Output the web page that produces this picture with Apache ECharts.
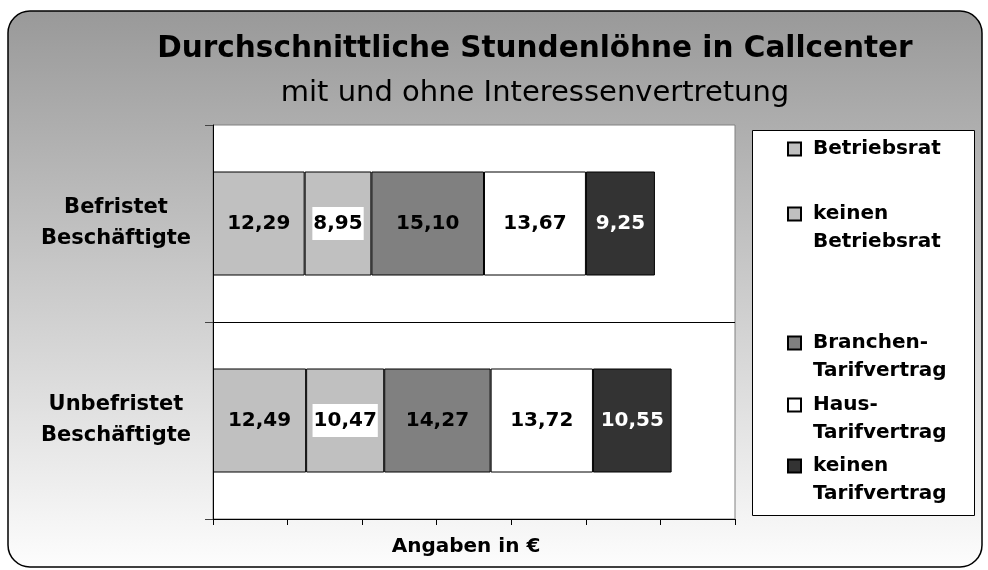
<!DOCTYPE html>
<html>
<head>
<meta charset="utf-8">
<script src="https://cdn.jsdelivr.net/npm/echarts@6/dist/echarts.min.js"></script>
<style>
  html, body { margin: 0; padding: 0; background: #ffffff; }
  #chart { width: 988px; height: 570px; }
</style>
</head>
<body>
<div id="chart"></div>
<script>
// Hourly wages (EUR) by employment type and workforce representation
const categories = ['Befristet Beschäftigte', 'Unbefristet Beschäftigte'];
const seriesNames = ['Betriebsrat', 'keinen Betriebsrat', 'Branchen-Tarifvertrag', 'Haus-Tarifvertrag', 'keinen Tarifvertrag'];
const betriebsrat = [12.29, 12.49];
const keinenBetriebsrat = [8.95, 10.47];
const branchenTarif = [15.10, 14.27];
const hausTarif = [13.67, 13.72];
const keinenTarif = [9.25, 10.55];
const xTickValues = [0, 10, 20, 30, 40, 50, 60, 70];

const seriesValues = [betriebsrat, keinenBetriebsrat, branchenTarif, hausTarif, keinenTarif];
const fills = ['#c0c0c0', '#c0c0c0', '#808080', '#ffffff', '#333333'];
const FONT = 'DejaVu Sans';
const LINE = 28;

// icon centre (y) of each legend entry
const legendCenters = [149, 214, 343, 405, 466];

const fmtEuro = v => v.toFixed(2).replace('.', ',');
const breakName = name => name.replace(/-| /, m => (m === '-' ? '-' : '') + '\n');

// two-line entries get a blank leading line so the first line sits beside the icon
const legends = seriesNames.map((name, i) => {
  const twoLine = breakName(name) !== name;
  return {
    data: [name],
    left: 787,
    top: legendCenters[i] - (twoLine ? LINE * 1.5 : LINE / 2),
    padding: 0,
    icon: 'rect',
    itemWidth: 13,
    itemHeight: 13,
    selectedMode: false,
    formatter: n => (twoLine ? '\u00a0\n' : '') + breakName(n),
    textStyle: {
      fontFamily: FONT,
      fontWeight: 'bold',
      fontSize: 20,
      lineHeight: LINE,
      color: '#000',
      padding: [0, 0, 0, 7]
    }
  };
});

const series = seriesNames.map((name, i) => ({
  name: name,
  type: 'bar',
  stack: 'wages',
  barWidth: 104,
  data: seriesValues[i],
  itemStyle: { color: fills[i], borderColor: '#000', borderWidth: 1 },
  label: {
    show: true,
    position: 'inside',
    formatter: p => fmtEuro(p.value),
    fontFamily: FONT,
    fontWeight: 'bold',
    fontSize: 20,
    color: i === 4 ? '#ffffff' : '#000000',
    backgroundColor: i === 1 ? '#ffffff' : 'transparent',
    padding: i === 1 ? [7, 1, 6, 1] : 0
  },
  emphasis: { disabled: true }
}));

const chart = echarts.init(document.getElementById('chart'), null, { renderer: 'canvas' });
chart.setOption({
  animation: false,
  backgroundColor: '#ffffff',
  title: {
    text: 'Durchschnittliche Stundenlöhne in Callcenter',
    subtext: 'mit und ohne Interessenvertretung',
    left: 535,
    top: 34,
    textAlign: 'center',
    padding: 0,
    itemGap: 15,
    textStyle: { fontFamily: FONT, fontWeight: 'bold', fontSize: 29.5, color: '#000' },
    subtextStyle: { fontFamily: FONT, fontWeight: 'normal', fontSize: 29, color: '#000' }
  },
  graphic: [
    {
      type: 'rect',
      z: -10,
      shape: { x: 8, y: 11, width: 974, height: 556, r: 22 },
      style: {
        fill: {
          type: 'linear', x: 0, y: 0, x2: 0, y2: 1,
          colorStops: [{ offset: 0, color: '#999999' }, { offset: 1, color: '#fdfdfd' }]
        },
        stroke: '#000',
        lineWidth: 1.5
      }
    },
    {
      type: 'rect',
      z: 1,
      shape: { x: 752.5, y: 130.5, width: 222, height: 385 },
      style: { fill: '#ffffff', stroke: '#000', lineWidth: 1 }
    }
  ],
  legend: legends,
  grid: {
    left: 213, right: 253, top: 125, bottom: 51,
    outerBoundsMode: 'none',
    show: true,
    backgroundColor: '#ffffff',
    borderColor: '#808080',
    borderWidth: 1
  },
  xAxis: {
    type: 'value',
    min: xTickValues[0],
    max: xTickValues[xTickValues.length - 1],
    interval: xTickValues[1] - xTickValues[0],
    axisLine: { show: true, lineStyle: { color: '#000', width: 1 } },
    axisTick: { show: true, length: 6, lineStyle: { color: '#000' } },
    axisLabel: { show: false },
    splitLine: { show: false },
    name: 'Angaben in €',
    nameLocation: 'middle',
    nameGap: 18,
    nameTextStyle: {
      fontFamily: FONT, fontWeight: 'bold', fontSize: 20, color: '#000',
      padding: [0, 16, 0, 0]
    }
  },
  yAxis: {
    type: 'category',
    inverse: true,
    data: categories,
    axisLine: { show: true, lineStyle: { color: '#000', width: 1 } },
    axisTick: { show: true, length: 8, lineStyle: { color: '#444' } },
    axisLabel: {
      formatter: v => v.replace(' ', '\n'),
      fontFamily: FONT,
      fontWeight: 'bold',
      fontSize: 21,
      lineHeight: 31,
      align: 'center',
      margin: 97,
      color: '#000'
    },
    splitLine: {
      show: true,
      showMinLine: false,
      lineStyle: { color: '#000', width: 1 }
    }
  },
  series: series
});
</script>
</body>
</html>
